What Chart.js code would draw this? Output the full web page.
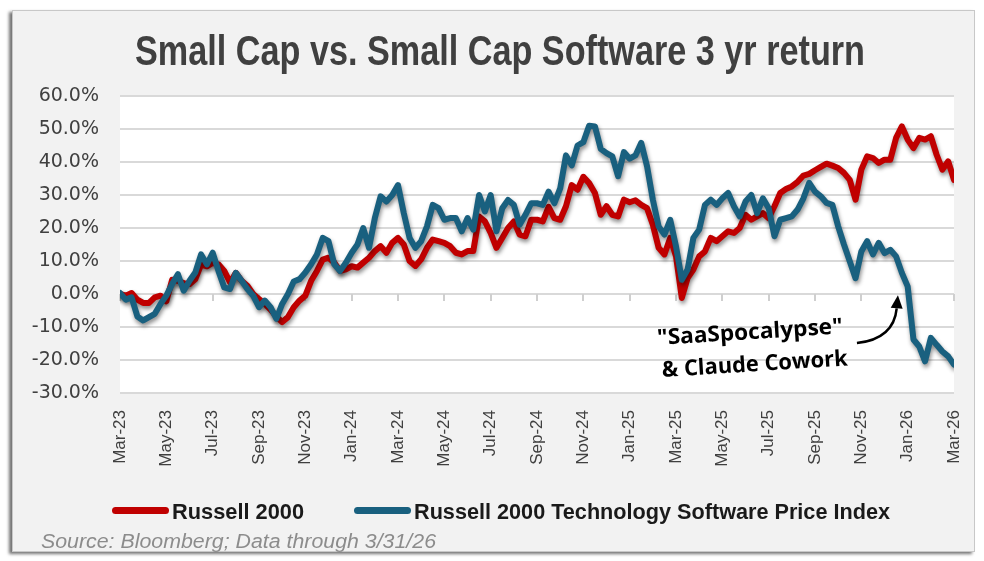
<!DOCTYPE html>
<html>
<head>
<meta charset="utf-8">
<script src="https://cdn.jsdelivr.net/npm/chart.js@4.4.1/dist/chart.umd.min.js"></script>
<style>
  body { margin: 0; background: #fff; width: 984px; height: 561px; overflow: hidden; position: relative; }
  #card { position: absolute; left: 12px; top: 10px; width: 961px; height: 540px; background: #f2f2f2;
          border: 1px solid #c8c8c8; box-shadow: -3px 2px 3px rgba(0,0,0,0.55); }
  #graph { position: absolute; left: 0; top: 0; }
  .narrow { font-family: "Liberation Sans", Arial, sans-serif; transform-origin: left top; white-space: nowrap; }
  #title { position: absolute; left: 135px; top: 27px; font-size: 42px; font-weight: bold; color: #404040; }
  .leg-line { position: absolute; height: 7px; border-radius: 4px; top: 507px; }
  .leg-text { position: absolute; top: 499px; font-size: 22px; font-weight: bold; color: #1a1a1a; }
  #source { position: absolute; left: 41px; top: 530px; font-size: 20px; font-style: italic; color: #8c8c8c; }
</style>
</head>
<body>
<div id="card"></div>
<canvas id="graph" width="984" height="561"></canvas>
<div id="title" class="narrow" data-w="730">Small Cap vs. Small Cap Software 3 yr return</div>
<div class="leg-line" style="left:112px;width:57px;background:#c00000"></div>
<div class="leg-text narrow" style="left:172px" data-w="132">Russell 2000</div>
<div class="leg-line" style="left:354px;width:57px;background:#19607f"></div>
<div class="leg-text narrow" style="left:414px" data-w="476">Russell 2000 Technology Software Price Index</div>
<div id="source" class="narrow" data-w="395">Source: Bloomberg; Data through 3/31/26</div>
<script>
// 3 yr cumulative return (%), sampled every quarter month from end of Mar-23
var stepMonths = 0.25;

var russell2000 = [
  0, -0.5, 0.3, -1.7, -2.7, -2.7, -1, -0.5, -2.2, 4.3, 4, 3.3, 3, 4.5, 8.9, 8.4,
  9.4, 9, 7, 3.5, 6.4, 4, 2.5, 0, -1.5, -3, -4.7, -6.8, -8.5, -7, -4, -2,
  -0.5, 4, 7, 10.4, 11, 9.5, 7, 7.5, 8.4, 8, 9.5, 11, 13, 14.5, 12.5, 15.5,
  17, 15, 10, 8.5, 10.5, 14, 16.5, 16, 15.5, 14.5, 12.5, 12, 13, 13, 23.5, 22,
  18.5, 14, 17, 20, 22, 18, 17.5, 22.5, 22.5, 22, 26.4, 23, 22.5, 26.6, 33, 31.6,
  35.5, 33.6, 30.6, 24, 26.6, 24, 23.5, 28.6, 27.8, 28.4, 27, 26, 21, 14, 12, 17,
  11.4, -1.2, 4.8, 7.4, 11.4, 12.9, 17, 16, 17.5, 19, 18.5, 20, 24, 22.5, 23.5, 24.5,
  23, 26.6, 30.6, 31.8, 32.6, 34, 35.9, 36.4, 37.5, 38.5, 39.5, 38.9, 38.2, 36.7, 34.6, 28.6,
  37.7, 41.7, 41.2, 39.7, 40.7, 40.7, 47.3, 50.8, 46.8, 44.2, 47.3, 46.8, 47.8, 42.2, 37.7, 40.2,
  34.6
];

var softwareIndex = [
  0.3, -1.7, -1, -6.8, -8, -7, -6, -3, -0.5, 3, 6, 1, 4, 6.5, 12, 9,
  12.5, 7, 2, 1.5, 6.4, 4, 1.5, -0.5, -4, -2, -4, -7.5, -3, 0, 3.8, 4.5,
  6.5, 9, 12, 17, 16, 9, 7, 9.5, 12.5, 15, 20, 14, 23, 29.6, 28, 30,
  33, 24.5, 17, 14, 16, 20.5, 27, 26, 22.5, 23, 23, 19, 23, 19.5, 30, 25,
  30, 19, 26, 28.5, 27, 21, 24, 27.5, 27.5, 27, 31, 27.5, 32, 42, 39, 45,
  46, 51, 50.8, 44, 42.7, 41.7, 35.7, 43, 41, 42, 45.8, 38.7, 28.6, 20.5, 18, 22.5,
  14.4, 4.3, 7.4, 17, 19.5, 27, 28.6, 27, 29, 30.6, 26.6, 23.5, 28, 30, 24.5, 29,
  26, 17.5, 22.5, 23, 23.5, 25.6, 29, 33.7, 31, 29.6, 27.6, 27, 20.5, 15, 9.9, 4.8,
  12.9, 16, 12, 15.5, 12.4, 13.4, 11.4, 6.4, 2.3, -13.8, -15.9, -20.4, -13.3, -15.4, -17.4, -18.9,
  -21.4
];

var xTickLabels = ['Mar-23', 'May-23', 'Jul-23', 'Sep-23', 'Nov-23', 'Jan-24', 'Mar-24', 'May-24',
  'Jul-24', 'Sep-24', 'Nov-24', 'Jan-25', 'Mar-25', 'May-25', 'Jul-25', 'Sep-25', 'Nov-25',
  'Jan-26', 'Mar-26'];

var seriesNames = ['Russell 2000', 'Russell 2000 Technology Software Price Index'];

function toPoints(values) {
  return values.map(function (v, i) { return { x: i * stepMonths, y: v }; });
}

// squeeze html text to the narrow width of the original font
document.querySelectorAll('[data-w]').forEach(function (el) {
  var w = el.getBoundingClientRect().width;
  el.style.transform = 'scaleX(' + (parseFloat(el.dataset.w) / w) + ')';
});

// text + arrow in data units (months, %)
var callout = {
  lines: ['"SaaSpocalypse"', '& Claude Cowork'],
  widths: [186, 186],
  at: [[27.19, -11.8], [27.4, -21.5]],
  arrowFrom: [31.81, -14.85],
  arrowCtrl: [33.4, -13.6],
  arrowTo: [33.58, -0.4]
};

var plotBg = {
  id: 'plotBg',
  beforeDraw: function (chart) {
    var a = chart.chartArea, ctx = chart.ctx;
    ctx.save();
    ctx.fillStyle = '#ffffff';
    ctx.fillRect(a.left, a.top, a.right - a.left, a.bottom - a.top);
    ctx.restore();
  }
};

var lineShadow = {
  id: 'lineShadow',
  beforeDatasetDraw: function (chart) {
    var ctx = chart.ctx;
    ctx.save();
    ctx.shadowColor = 'rgba(0,0,0,0.45)';
    ctx.shadowBlur = 4;
    ctx.shadowOffsetX = 1;
    ctx.shadowOffsetY = 3;
  },
  afterDatasetDraw: function (chart) { chart.ctx.restore(); }
};

var zeroTicks = {
  id: 'zeroTicks',
  beforeDatasetsDraw: function (chart) {
    var ctx = chart.ctx, x = chart.scales.x, y = chart.scales.y;
    var y0 = y.getPixelForValue(0);
    ctx.save();
    ctx.strokeStyle = '#cfcfcf';
    ctx.lineWidth = 2;
    ctx.beginPath();
    x.ticks.forEach(function (t) {
      var px = Math.round(x.getPixelForValue(t.value));
      ctx.moveTo(px, y0);
      ctx.lineTo(px, y0 + 7);
    });
    ctx.stroke();
    ctx.restore();
  }
};

var calloutPlugin = {
  id: 'callout',
  afterDatasetsDraw: function (chart) {
    var ctx = chart.ctx, x = chart.scales.x, y = chart.scales.y;
    ctx.save();
    ctx.fillStyle = '#000';
    ctx.font = 'bold 22px "Open Sans", Lato, sans-serif';
    ctx.textAlign = 'center';
    ctx.textBaseline = 'middle';
    callout.lines.forEach(function (txt, i) {
      var k = callout.widths[i] / ctx.measureText(txt).width;
      ctx.save();
      ctx.translate(x.getPixelForValue(callout.at[i][0]), y.getPixelForValue(callout.at[i][1]));
      ctx.rotate(-3.6 * Math.PI / 180);
      ctx.scale(k, 1);
      ctx.fillText(txt, 0, 0);
      ctx.restore();
    });
    var sx = x.getPixelForValue(callout.arrowFrom[0]), sy = y.getPixelForValue(callout.arrowFrom[1]);
    var cx = x.getPixelForValue(callout.arrowCtrl[0]), cy = y.getPixelForValue(callout.arrowCtrl[1]);
    var ex = x.getPixelForValue(callout.arrowTo[0]), ey = y.getPixelForValue(callout.arrowTo[1]);
    var ang = Math.atan2(ey - cy, ex - cx);
    var hl = 13;
    var bx = ex - Math.cos(ang) * hl, by = ey - Math.sin(ang) * hl;
    ctx.strokeStyle = '#000';
    ctx.lineWidth = 2.5;
    ctx.beginPath();
    ctx.moveTo(sx, sy);
    ctx.quadraticCurveTo(cx, cy, bx, by);
    ctx.stroke();
    ctx.beginPath();
    ctx.moveTo(ex, ey);
    ctx.lineTo(bx + Math.cos(ang + Math.PI / 2) * 6, by + Math.sin(ang + Math.PI / 2) * 6);
    ctx.lineTo(bx + Math.cos(ang - Math.PI / 2) * 6, by + Math.sin(ang - Math.PI / 2) * 6);
    ctx.closePath();
    ctx.fill();
    ctx.restore();
  }
};

var chart = document.getElementById('graph').getContext('2d');
var line_graph = new Chart(chart, {
  type: 'line',
  data: {
    datasets: [{
      label: seriesNames[1],
      data: toPoints(softwareIndex),
      borderColor: '#19607f',
      backgroundColor: '#19607f',
      borderWidth: 6,
      pointRadius: 0,
      tension: 0,
      borderJoinStyle: 'round',
      borderCapStyle: 'round'
    }, {
      label: seriesNames[0],
      data: toPoints(russell2000),
      borderColor: '#c00000',
      backgroundColor: '#c00000',
      borderWidth: 6,
      pointRadius: 0,
      tension: 0,
      borderJoinStyle: 'round',
      borderCapStyle: 'round'
    }]
  },
  options: {
    responsive: false,
    animation: false,
    devicePixelRatio: 1,
    layout: { padding: { left: 0, top: 96, right: 30, bottom: 88 } },
    plugins: { legend: { display: false }, tooltip: { enabled: false }, title: { display: false } },
    scales: {
      x: {
        type: 'linear',
        min: 0,
        max: 36,
        grid: { display: false },
        border: { display: false },
        ticks: {
          stepSize: 2,
          autoSkip: false,
          minRotation: 90,
          maxRotation: 90,
          padding: 9,
          color: '#404040',
          font: { family: '"Liberation Sans", Arial, sans-serif', size: 17 },
          callback: function (v) { return xTickLabels[Math.round(v / 2)]; }
        },
        afterFit: function (s) { s.height = 80; }
      },
      y: {
        min: -30,
        max: 60,
        grid: { color: '#d9d9d9', lineWidth: 2, drawTicks: false },
        border: { display: false },
        ticks: {
          stepSize: 10,
          padding: 21,
          color: '#404040',
          font: { family: 'DejaVu Sans', size: 19 },
          callback: function (v) { return v.toFixed(1) + '%'; }
        },
        afterFit: function (s) { s.width = 120; }
      }
    }
  },
  plugins: [plotBg, lineShadow, zeroTicks, calloutPlugin]
});
</script>
</body>
</html>
